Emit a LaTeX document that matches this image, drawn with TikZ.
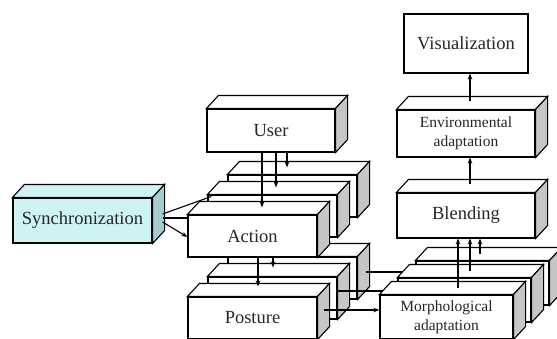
\documentclass[tikz,border=0pt]{standalone}
\usepackage{fontspec}
\setmainfont{Liberation Serif}
\usetikzlibrary{arrows.meta}

\definecolor{syncfill}{RGB}{206,243,243}
\definecolor{syncside}{RGB}{165,205,208}

% box with top and side faces: name, position, front colour, side colour, size, text
\newcommand{\slabbox}[6]{%
  \node[front, fill=#3, #5] (#1) at #2 {#6};
  \draw[fill=#3] (#1.north west) -- ++(12,-13) -- ([shift={(12,-13)}]#1.north east) -- (#1.north east) -- cycle;
  \draw[fill=#4] (#1.north east) -- ++(12,-13) -- ([shift={(12,-13)}]#1.south east) -- (#1.south east) -- cycle;
}

\begin{document}
\begin{tikzpicture}[x=1pt, y=-1pt, line width=1.1pt, >={Stealth[length=6pt,width=4.5pt]},
    front/.style={draw, inner sep=0pt, align=center, text=black!85, font=\fontsize{18.5}{20}\selectfont},
    small/.style={font=\fontsize{15.5}{19}\selectfont},
    act/.style={minimum width=129pt, minimum height=42pt},
    mor/.style={minimum width=133pt, minimum height=44pt}]
    \useasboundingbox (0,0) rectangle (557,338);
    \clip (0,0) rectangle (557,338);

    % Right column
    \node[front, minimum width=124pt, minimum height=59pt] (vis) at (466,43.5) {Visualization};
    \slabbox{env}{(466,133.5)}{white}{gray!45}{small, minimum width=138pt, minimum height=47pt}{Environmental\\adaptation}
    \slabbox{blend}{(466,215.5)}{white}{gray!45}{minimum width=138pt, minimum height=45pt}{Blending}

    % User and synchronization
    \slabbox{user}{(271,130.5)}{white}{gray!45}{minimum width=128pt, minimum height=43pt}{User}
    \slabbox{sync}{(82.5,220.5)}{syncfill}{syncside}{minimum width=139pt, minimum height=45pt}{Synchronization}

    % Posture stack
    \slabbox{postC}{(292.5,278)}{white}{gray!45}{act}{}
    \slabbox{postB}{(272.5,298)}{white}{gray!45}{act}{}
    \slabbox{postA}{(252.5,318)}{white}{gray!45}{act}{Posture}

    % Action stack
    \slabbox{actC}{(292.5,196)}{white}{gray!45}{act}{}
    \slabbox{actB}{(272.5,216)}{white}{gray!45}{act}{}
    \draw ([xshift=10pt,yshift=6.5pt]sync.east) -- ([shift={(4,2)}]actB.north west);
    \draw ([xshift=10pt,yshift=2.5pt]sync.east) -- ([yshift=-2pt]actB.west);
    \slabbox{actA}{(252.5,236)}{white}{gray!45}{act}{Action}
    \draw[->] ([xshift=10pt,yshift=-1.5pt]sync.east) -- ([yshift=-1pt]actA.west);

    % User to action
    \draw[->] ([xshift=-9pt]user.south) -- ([xshift=9.5pt,yshift=7pt]actA.north);
    \draw[->] ([xshift=5pt]user.south) -- ([xshift=3.5pt,yshift=7pt]actB.north);
    \draw[->] ([xshift=16pt]user.south) -- ([xshift=-5.5pt,yshift=7pt]actC.north);

    % Action to posture
    \draw[->] ([xshift=5.5pt]actA.south) -- ([xshift=5.5pt,yshift=10pt]postA.north);
    \draw[->] ([xshift=20.5pt]actA.south) -- ([xshift=0.5pt,yshift=9pt]postB.north);

    % Posture to morphological adaptation
    \draw ([xshift=8pt,yshift=6pt]postC.east) -- ++(60,0);
    \draw ([yshift=7pt]postB.east) -- ++(60,0);

    % Morphological stack
    \slabbox{morC}{(482.5,283)}{white}{gray!45}{mor}{}
    \slabbox{morB}{(464.5,300)}{white}{gray!45}{mor}{}
    \slabbox{morA}{(446.5,317)}{white}{gray!45}{mor, small}{Morphological\\adaptation}
    \draw[->] ([xshift=6pt,yshift=8pt]postA.east) -- ([yshift=7pt]morA.west);

    % Up to the visualization
    \draw[->] ([xshift=11.5pt,yshift=6pt]morA.north) -- ([xshift=-8pt]blend.south);
    \draw[->] ([xshift=5.5pt,yshift=6pt]morB.north) -- ([xshift=4pt]blend.south);
    \draw[->] ([xshift=-2.5pt,yshift=6pt]morC.north) -- ([xshift=14pt]blend.south);
    \draw[->] ([xshift=4pt,yshift=8pt]blend.north) -- ([xshift=4pt]env.south);
    \draw[->] ([xshift=4pt,yshift=8pt]env.north) -- ([xshift=4pt]vis.south);
\end{tikzpicture}
\end{document}
